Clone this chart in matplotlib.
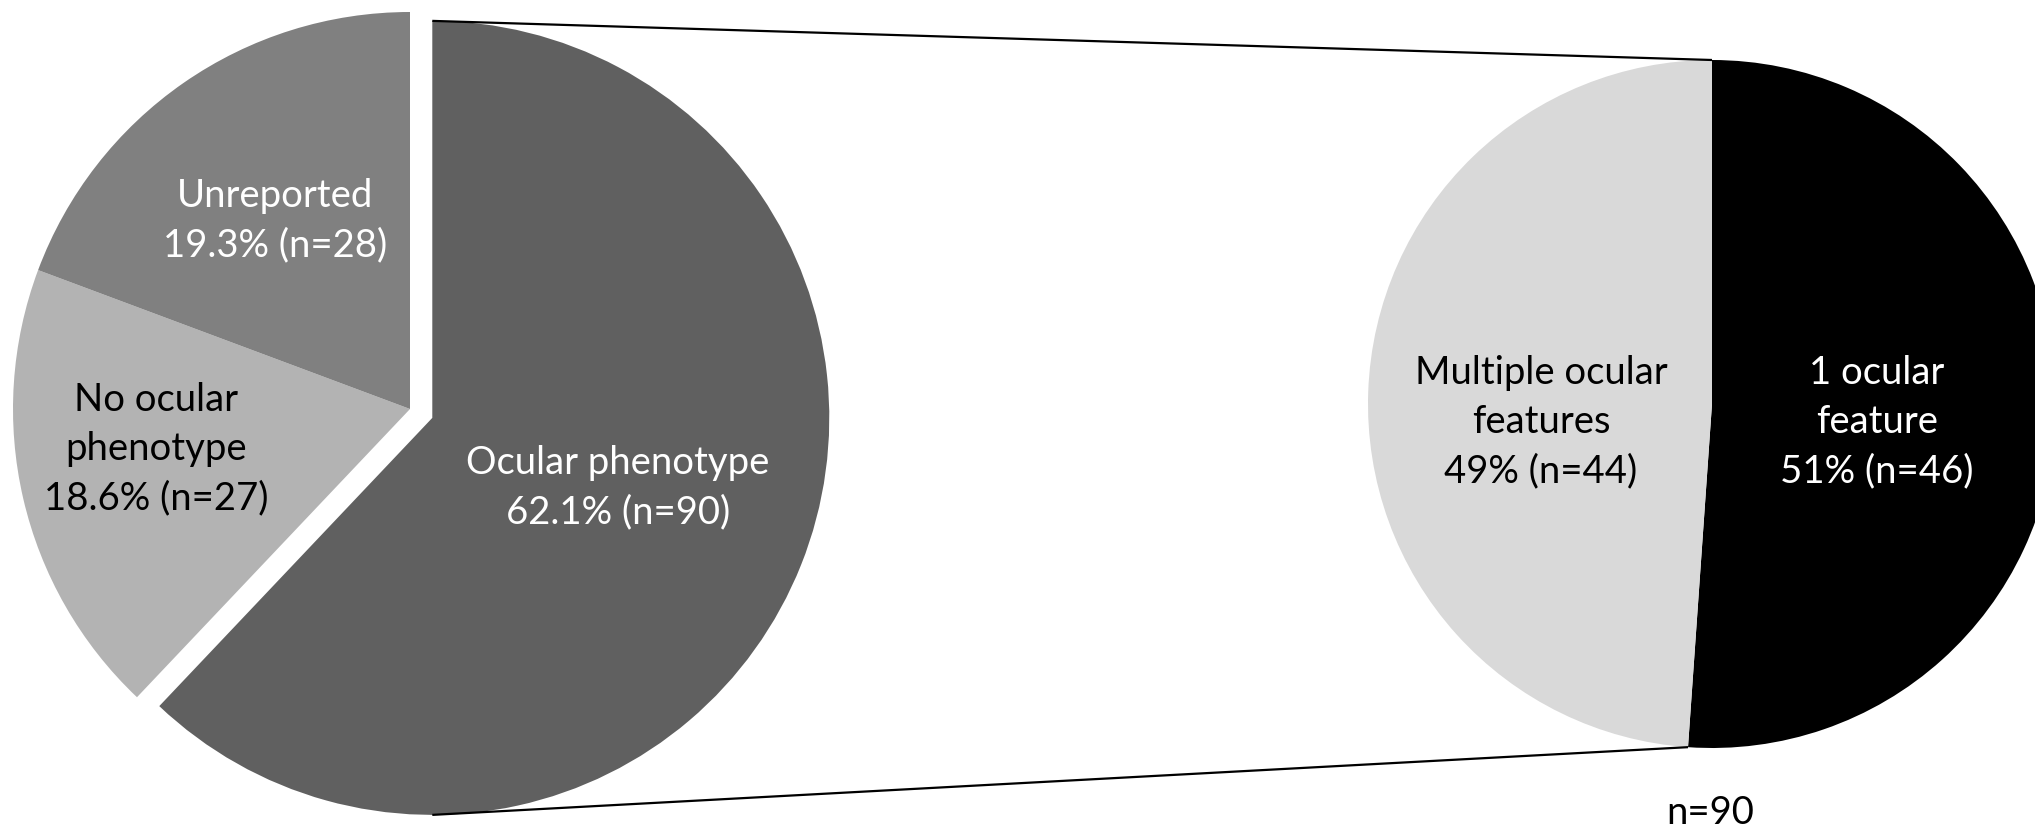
import matplotlib
matplotlib.use("Agg")
import matplotlib.pyplot as plt

plt.rcParams['font.family'] = ['Lato', 'DejaVu Sans']

# left pie: overall breakdown of reported cases
main_labels = ["Ocular phenotype", "No ocular\nphenotype", "Unreported"]
main_counts = [90, 27, 28]
main_colors = ["#606060", "#b3b3b3", "#808080"]
main_text_colors = ["white", "black", "white"]

# right pie: breakdown of the ocular phenotype group
sub_labels = ["1 ocular\nfeature", "Multiple ocular\nfeatures"]
sub_counts = [46, 44]
sub_colors = ["#000000", "#d9d9d9"]
sub_text_colors = ["white", "black"]

W, H = 2035, 828
fig = plt.figure(figsize=(W / 100, H / 100), dpi=100)
ax = fig.add_axes([0, 0, 1, 1])

total = sum(main_counts)
main_wedges, _ = ax.pie(main_counts, colors=main_colors, startangle=90,
                        counterclock=False, center=(410, 418), radius=397,
                        explode=[24, 0, 0],
                        wedgeprops=dict(linewidth=0))

sub_total = sum(sub_counts)
sub_wedges, _ = ax.pie(sub_counts, colors=sub_colors, startangle=90,
                       counterclock=False, center=(1712, 423), radius=344,
                       wedgeprops=dict(linewidth=0))

fs = 27.5
ls = 1.45
main_pos = [(618, 340), (156, 379), (275, 607)]
for lab, n, col, (x, y) in zip(main_labels, main_counts, main_text_colors, main_pos):
    txt = f"{lab}\n{100 * n / total:.1f}% (n={n})"
    ax.text(x, y, txt, ha="center", va="center", color=col, fontsize=fs,
            linespacing=ls)

sub_pos = [(1877, 406), (1541, 406)]
for lab, n, col, (x, y) in zip(sub_labels, sub_counts, sub_text_colors, sub_pos):
    txt = f"{lab}\n{round(100 * n / sub_total)}% (n={n})"
    ax.text(x, y, txt, ha="center", va="center", color=col, fontsize=fs,
            linespacing=ls)

ax.text(1710, 15, f"n={sub_total}", ha="center", va="center", color="black",
        fontsize=fs)

# connector lines from the exploded wedge to the split of the right pie
import numpy as np
w0 = main_wedges[0]
cx, cy = w0.center
r0 = w0.r
s0 = sub_wedges[0]
sx, sy = s0.center
rs = s0.r
for a_main, a_sub in [(90, s0.theta2), (-90, s0.theta1)]:
    x0 = cx + r0 * np.cos(np.radians(a_main))
    y0 = cy + r0 * np.sin(np.radians(a_main))
    x1 = sx + rs * np.cos(np.radians(a_sub))
    y1 = sy + rs * np.sin(np.radians(a_sub))
    ax.plot([x0, x1], [y0, y1], color="black", lw=1.6, solid_capstyle="butt")

ax.set_xlim(0, W)
ax.set_ylim(0, H)
ax.set_aspect("equal")
ax.axis("off")

fig.savefig("out.png", dpi=100, facecolor="white")
